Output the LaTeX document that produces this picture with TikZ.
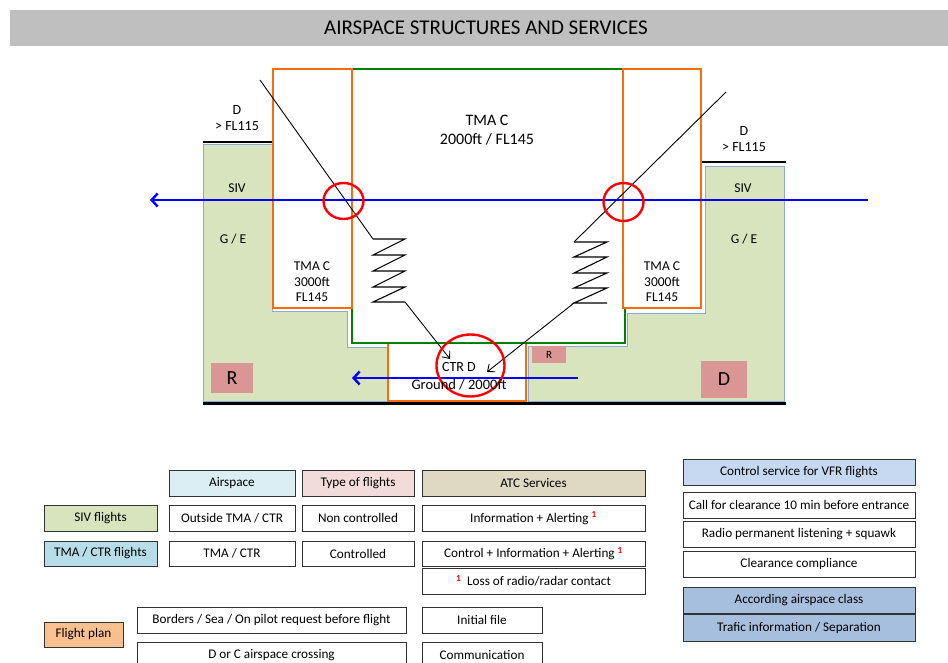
\documentclass[tikz,border=0pt]{standalone}
\usepackage{fontspec}
\setmainfont{Carlito}
\usetikzlibrary{arrows.meta}
\definecolor{titlegray}{HTML}{BFBFBF}
\definecolor{gfill}{HTML}{D7E4BD}
\definecolor{gline}{HTML}{8EAADB}
\definecolor{orangeC}{RGB}{250,108,10}
\definecolor{greenC}{RGB}{0,128,0}
\definecolor{blueC}{RGB}{0,0,255}
\definecolor{pinkC}{HTML}{D99694}
\definecolor{hdrA}{HTML}{DAEEF3}
\definecolor{hdrT}{HTML}{F2DCDB}
\definecolor{hdrS}{HTML}{DDD9C3}
\definecolor{hdrC}{HTML}{B7DEE8}
\definecolor{hdrF}{HTML}{FAC090}
\definecolor{hdrV}{HTML}{C6D9F1}
\definecolor{hdrK}{HTML}{A7BFDE}
\newcommand{\supone}{\textcolor{red}{\textsuperscript{\bfseries 1}}}
\begin{document}
\begin{tikzpicture}[x=1pt,y=-1pt,
  lbl/.style={font=\fontsize{13.5}{15.5}\selectfont, align=center, inner sep=0pt},
  cell/.style={draw=black!80, line width=0.8pt, inner sep=0pt, font=\fontsize{13.2}{15}\selectfont, minimum height=26pt},
  pinkbox/.style={fill=pinkC, inner sep=0pt},
  orangebox/.style={draw=orangeC, line width=2.6pt, fill=white},
  blk/.style={black, line width=0.9pt},
  zz/.style={black, line width=1.1pt, line join=miter},
  blk arrow/.style={black, line width=0.9pt, -{Straight Barb[length=6pt,width=10pt]}},
  blue arrow/.style={blueC, line width=2.4pt, -{Straight Barb[length=6pt,width=13pt]}},
  redring/.style={red, line width=2.4pt}
]
\useasboundingbox (0,0) rectangle (948,663);

% title
\fill[titlegray] (10,10) rectangle (948,46);
\node[font=\fontsize{21}{24}\selectfont] (title) at (486,28) {AIRSPACE STRUCTURES AND SERVICES};

% green regions
\draw[gline, fill=gfill, line width=0.8pt] (203,144) -- (272,144) -- (272,311) -- (347,311) -- (347,347) -- (388,347) -- (388,401) -- (203,401) -- cycle;
\draw[gline, fill=gfill, line width=0.8pt] (705,166) -- (784,166) -- (784,401) -- (528,401) -- (528,346) -- (627,346) -- (627,313) -- (705,313) -- cycle;

% black limits
\draw[black, line width=1.3pt] (203,142) -- (273,142);
\draw[black, line width=1.3pt] (701,162) -- (786,162);
\draw[black, line width=3pt] (203,403) -- (786,403);

% CTR, TMA
\draw[orangebox] (388,343) rectangle (526,401);
\draw[greenC, line width=2.6pt] (352,69) rectangle (625,343);
\draw[orangebox] (273,69) rectangle (352,308);
\draw[orangebox] (623,69) rectangle (701,308);

% flight paths
\coordinate (la) at (260,80);
\coordinate (lz) at (373,239);
\coordinate (lo) at (405,302);
\coordinate (lt) at (450,359);
\draw[blk] (la) -- (lz);
\draw[zz] (lz) -- (405,239) -- (373,255) -- (405,255) -- (373,271) -- (405,271) -- (373,287) -- (405,287) -- (373,302) -- (lo);
\draw[blk arrow] (lo) -- (lt);

\coordinate (ra) at (726,92);
\coordinate (rz) at (574,242);
\coordinate (ro) at (574,303);
\coordinate (rt) at (487,372);
\draw[blk] (ra) -- (rz);
\draw[zz] (rz) -- (607,242) -- (574,257) -- (607,257) -- (574,273) -- (607,273) -- (574,288) -- (607,288) -- (ro) -- (607,303);
\draw[blk arrow] (ro) -- (rt);

% blue tracks
\coordinate (b1s) at (868,200);
\coordinate (b1e) at (150,200);
\draw[blue arrow] (b1s) -- (b1e);
\coordinate (b2s) at (578,378);
\coordinate (b2e) at (352,378);
\draw[blue arrow] (b2s) -- (b2e);

% red rings
\draw[redring] (343.5,201) ellipse [x radius=20pt, y radius=18pt];
\draw[redring] (623.5,202) ellipse [x radius=20pt, y radius=19pt];
\draw[redring] (470.5,365.5) ellipse [x radius=34pt, y radius=31pt];

% labels
\node[lbl, font=\fontsize{14}{16}\selectfont] (dl) at (237,118) {D\\> FL115};
\node[lbl, font=\fontsize{14}{16}\selectfont] (dr) at (744,139) {D\\> FL115};
\node[lbl] (sivl) at (237,188) {SIV};
\node[lbl] (gel) at (233,239) {G / E};
\node[lbl] (sivr) at (743,188) {SIV};
\node[lbl] (ger) at (744,239) {G / E};
\node[lbl] (tmal) at (312,282) {TMA C\\3000ft\\FL145};
\node[lbl] (tmar) at (662,282) {TMA C\\3000ft\\FL145};
\node[lbl, font=\fontsize{16}{19}\selectfont] (tmac) at (487,130.5) {TMA C\\2000ft / FL145};
\node[lbl, font=\fontsize{14}{16}\selectfont] (ctrd) at (459,367.5) {CTR D};
\node[lbl, font=\fontsize{14.5}{16}\selectfont] (ctrg) at (459,385) {Ground / 2000ft};

\node[pinkbox, minimum width=42pt, minimum height=30pt, font=\fontsize{20}{20}\selectfont] (rbig) at (232,378) {R};
\node[pinkbox, minimum width=46pt, minimum height=37pt, font=\fontsize{20}{20}\selectfont] (dbig) at (724,379.5) {D};
\node[pinkbox, minimum width=34pt, minimum height=17pt, font=\fontsize{11}{11}\selectfont] (rsmall) at (549,354.5) {R};

% table
\node[cell, fill=hdrA, minimum width=126pt] (hA) at (232,483) {Airspace};
\node[cell, fill=hdrT, minimum width=112pt] (hT) at (358,483) {Type of flights};
\node[cell, fill=hdrS, minimum width=223pt] (hS) at (533.5,483) {ATC Services};

\node[cell, fill=gfill, minimum width=113pt] (siv) at (100.5,518) {SIV flights};
\node[cell, minimum width=126pt] (sivA) at (232,518) {Outside TMA / CTR};
\node[cell, minimum width=112pt] (sivT) at (358,518) {Non controlled};
\node[cell, minimum width=223pt] (sivS) at (533.5,518) {Information + Alerting \supone};

\node[cell, fill=hdrC, minimum width=113pt, minimum height=25pt] (tma) at (100.5,553.5) {TMA / CTR flights};
\node[cell, minimum width=126pt, minimum height=25pt] (tmaA) at (232,553.5) {TMA / CTR};
\node[cell, minimum width=112pt, minimum height=25pt] (tmaT) at (358,553.5) {Controlled};
\node[cell, minimum width=223pt, minimum height=25pt] (tmaS) at (533.5,553.5) {Control + Information + Alerting \supone};
\node[cell, minimum width=223pt] (loss) at (533.5,581) {\supone\ \ Loss of radio/radar contact};

\node[cell, fill=hdrF, minimum width=79pt, minimum height=25pt] (fp) at (83.5,634.5) {Flight plan};
\node[cell, minimum width=269pt] (fp1) at (271.5,620) {Borders / Sea / On pilot request before flight};
\node[cell, minimum width=269pt] (fp2) at (271.5,655) {D or C airspace crossing};
\node[cell, minimum width=120pt] (fp1s) at (482,620) {Initial file};
\node[cell, minimum width=120pt] (fp2s) at (482,655) {Communication};

\node[cell, fill=hdrV, minimum width=232pt] (vfr) at (799,472) {Control service for VFR flights};
\node[cell, minimum width=232pt] (vfr1) at (799,505) {Call for clearance 10 min before entrance};
\node[cell, minimum width=232pt] (vfr2) at (799,534) {Radio permanent listening + squawk};
\node[cell, minimum width=232pt] (vfr3) at (799,564) {Clearance compliance};
\node[cell, fill=hdrK, minimum width=232pt] (cls) at (799,600) {According airspace class};
\node[cell, fill=hdrK, minimum width=232pt, minimum height=27pt] (sep) at (799,627.5) {Trafic information / Separation};
\end{tikzpicture}
\end{document}
